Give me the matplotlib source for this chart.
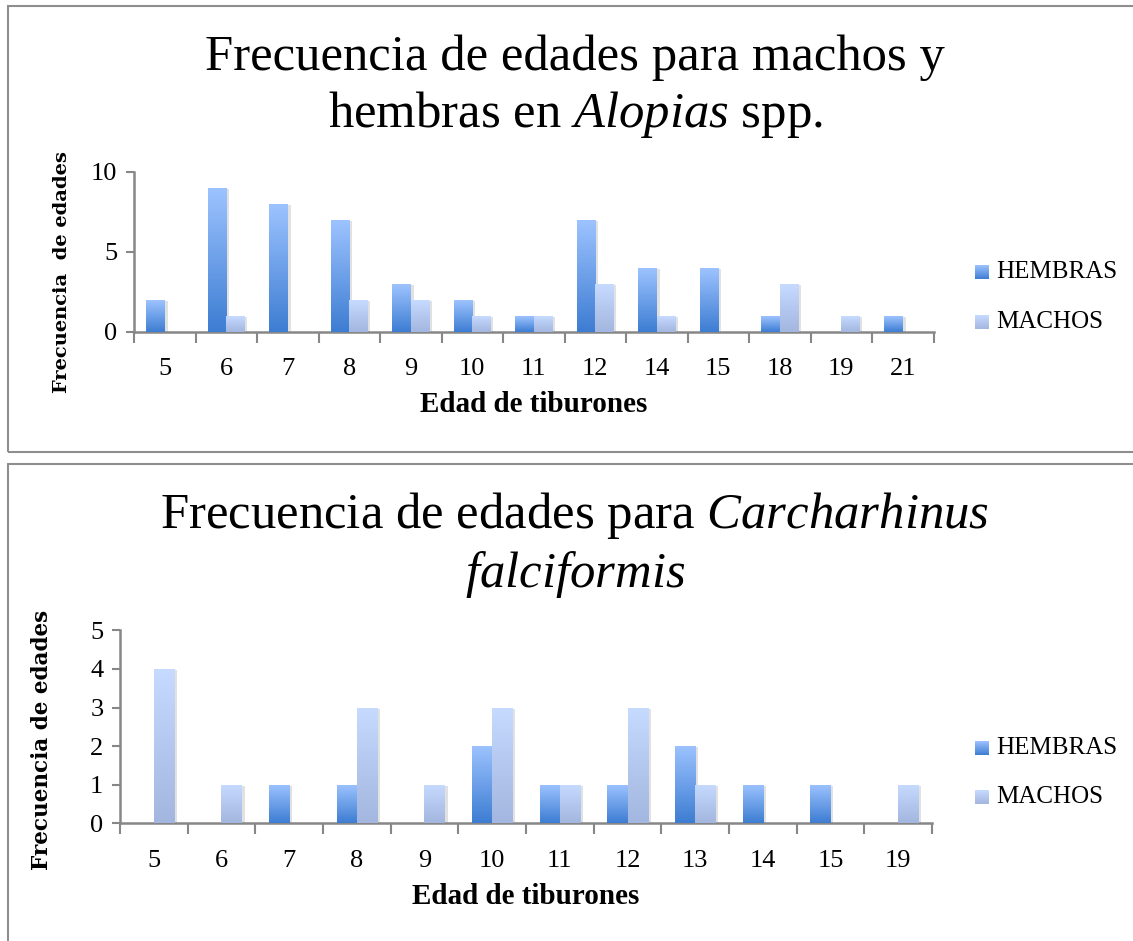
import numpy as np
import matplotlib

matplotlib.use("Agg")
import matplotlib.pyplot as plt  # noqa: E402
import matplotlib.patheffects as pe  # noqa: E402
from matplotlib.colors import LinearSegmentedColormap  # noqa: E402
from matplotlib.patches import Rectangle  # noqa: E402

# ---------------------------------------------------------------- data
alopias_edad = ["5", "6", "7", "8", "9", "10", "11", "12", "14", "15", "18", "19", "21"]
alopias_hembras = [2, 9, 8, 7, 3, 2, 1, 7, 4, 4, 1, 0, 1]
alopias_machos = [0, 1, 0, 2, 2, 1, 1, 3, 1, 0, 3, 1, 0]

carch_edad = ["5", "6", "7", "8", "9", "10", "11", "12", "13", "14", "15", "19"]
carch_hembras = [0, 0, 1, 1, 0, 2, 1, 1, 2, 1, 1, 0]
carch_machos = [4, 1, 0, 3, 1, 3, 1, 3, 1, 0, 0, 1]

series_names = ["HEMBRAS", "MACHOS"]

# (top, bottom) colours of the vertical gradient fill
HEMBRAS_GRAD = ("#9dc3ff", "#3d7dd2")
MACHOS_GRAD = ("#c7daff", "#a2b6df")
AXIS_GREY = "#878787"

plt.rcParams["font.family"] = ["Liberation Serif", "DejaVu Serif"]
plt.rcParams["mathtext.fontset"] = "custom"
plt.rcParams["mathtext.rm"] = "Liberation Serif"
plt.rcParams["mathtext.it"] = "Liberation Serif:italic"

W, H = 1133, 941
fig = plt.figure(figsize=(W / 100, H / 100), dpi=100)


def px_axes(x0, y0, x1, y1):
    return fig.add_axes([x0 / W, 1 - y1 / H, (x1 - x0) / W, (y1 - y0) / H])


def fill_gradient(ax, bars, colors):
    cmap = LinearSegmentedColormap.from_list("g", [colors[1], colors[0]])
    grad = np.linspace(0, 1, 256).reshape(-1, 1)
    for b in bars:
        h = b.get_height()
        if h <= 0:
            continue
        x0, w = b.get_x(), b.get_width()
        im = ax.imshow(grad, extent=(x0, x0 + w, 0, h), origin="lower",
                       cmap=cmap, aspect="auto", zorder=3, interpolation="bilinear")
        im.set_clip_path(b)


def panel(box, cats, hembras, machos, ymax, ystep, title, ylabel, ylab_xy,
          ylab_size, xlab_y, legend_y):
    ax = px_axes(*box)
    x = np.arange(len(cats))
    w = 0.3
    shadow = [pe.SimplePatchShadow(offset=(2, -1), shadow_rgbFace="#888888", alpha=0.25),
              pe.Normal()]
    b1 = ax.bar(x - w / 2, hembras, w, color=HEMBRAS_GRAD[1], zorder=2,
                path_effects=shadow)
    b2 = ax.bar(x + w / 2, machos, w, color=MACHOS_GRAD[1], zorder=2,
                path_effects=shadow)
    fill_gradient(ax, b1, HEMBRAS_GRAD)
    fill_gradient(ax, b2, MACHOS_GRAD)

    ax.set_xlim(-0.5, len(cats) - 0.5)
    ax.set_ylim(0, ymax)
    ax.set_yticks(np.arange(0, ymax + 0.01, ystep))
    ax.set_xticks(np.arange(-0.5, len(cats)), labels=[""] * (len(cats) + 1))
    ax.set_xticks(x, labels=cats, minor=True)
    ax.tick_params(axis="x", which="major", length=8, width=1.5, color=AXIS_GREY)
    ax.tick_params(axis="x", which="minor", length=0, pad=19, labelsize=19)
    ax.tick_params(axis="y", length=6, width=1.5, color=AXIS_GREY, pad=6, labelsize=19)
    for s in ("top", "right"):
        ax.spines[s].set_visible(False)
    for s in ("left", "bottom"):
        ax.spines[s].set_color(AXIS_GREY)
        ax.spines[s].set_linewidth(1.8)

    cx = (box[0] + box[2]) / 2
    fig.text(575 / W, 1 - title[1] / H, title[0], ha="center", va="center",
             fontsize=36.5, linespacing=1.22)
    fig.text(ylab_xy[0] / W, 1 - ylab_xy[1] / H, ylabel, rotation=90,
             ha="center", va="center", fontsize=ylab_size, fontweight="bold",
             family=["DejaVu Serif"])
    fig.text(cx / W, 1 - xlab_y / H, "Edad de tiburones", ha="center",
             va="center", fontsize=21, fontweight="bold")

    # legend with gradient swatches
    for (name, grad), ly in zip(zip(series_names, (HEMBRAS_GRAD, MACHOS_GRAD)), legend_y):
        sw = fig.add_axes([975 / W, 1 - (ly + 7) / H, 14 / W, 14 / H])
        sw.imshow(np.linspace(1, 0, 64).reshape(-1, 1), aspect="auto",
                  cmap=LinearSegmentedColormap.from_list("s", [grad[1], grad[0]]))
        sw.axis("off")
        fig.text(996 / W, 1 - ly / H, name, ha="left", va="center", fontsize=18)
    return ax


# chart frames (right edges run past the canvas)
for y0, y1 in ((6, 452), (464, 960)):
    fig.patches.append(Rectangle((8 / W, 1 - y1 / H), 1.2, (y1 - y0) / H,
                                 transform=fig.transFigure, fill=False,
                                 edgecolor="#8e8e8e", linewidth=1.5))

panel((134, 171.7, 933.5, 331.7), alopias_edad, alopias_hembras, alopias_machos,
      10, 5, ("Frecuencia de edades para machos y\nhembras en $\\mathit{Alopias}$ spp.", 87),
      "Frecuencia  de edades", (62, 272), 14, 405, (272, 322))

panel((120, 630.3, 932, 823.3), carch_edad, carch_hembras, carch_machos,
      5, 1, ("Frecuencia de edades para $\\mathit{Carcharhinus}$\n$\\mathit{falciformis}$", 545),
      "Frecuencia de edades", (42, 740), 15.5, 897, (748, 797))

fig.savefig("out.png", dpi=100)
